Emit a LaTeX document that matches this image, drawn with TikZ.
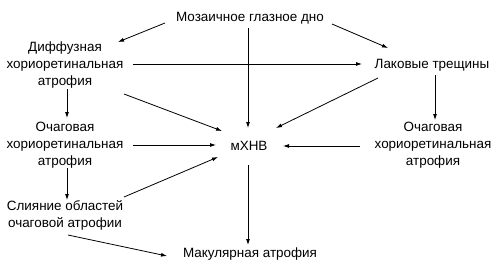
\documentclass[tikz,border=0pt]{standalone}
\usepackage{fontspec}
\setmainfont{Liberation Sans}
\usetikzlibrary{calc,arrows.meta}
\begin{document}
\begin{tikzpicture}[x=1bp,y=-1bp,
  lbl/.style={align=center,inner sep=0pt,font=\fontsize{13.5}{17}\selectfont},
  arr/.style={draw=black,line width=0.8bp,-{Latex[length=6bp,width=4bp]}}]
\useasboundingbox[fill=white] (0,0) rectangle (500,270);
\node[lbl] (moz) at (250,18) {Мозаичное глазное дно};
\node[lbl] (dif) at (65,65) {Диффузная\\хориоретинальная\\атрофия};
\node[lbl] (lak) at (432,65) {Лаковые трещины};
\node[lbl] (och1) at (65,145) {Очаговая\\хориоретинальная\\атрофия};
\node[lbl] (mx) at (249,146) {мХНВ};
\node[lbl] (och2) at (433,145) {Очаговая\\хориоретинальная\\атрофия};
\node[lbl] (sli) at (65,215) {Слияние областей\\очаговой атрофии};
\node[lbl] (mak) at (250,254) {Макулярная атрофия};
\draw[arr] ($(moz)+(-85,5)$) -- ($(dif)+(53,-23)$);
\draw[arr] ($(moz)+(82,6)$) -- ($(lak)+(-44,-17)$);
\draw[arr] ($(moz)+(-2,10)$) -- ($(mx)+(-1,-18)$);
\draw[arr] ($(dif)+(68,-1)$) -- ($(lak)+(-70,-1)$);
\draw[arr] ($(dif)+(2,24)$) -- ($(och1)+(2,-27)$);
\draw[arr] ($(dif)+(59,29)$) -- ($(mx)+(-27,-15)$);
\draw[arr] ($(lak)+(-54,13)$) -- ($(mx)+(27,-18)$);
\draw[arr] ($(lak)+(3,10)$) -- ($(och2)+(2,-25)$);
\draw[arr] ($(och1)+(68,0)$) -- ($(mx)+(-33,-1)$);
\draw[arr] ($(och2)+(-73,1)$) -- ($(mx)+(34,0)$);
\draw[arr] ($(och1)+(2,23)$) -- ($(sli)+(2,-15)$);
\draw[arr] ($(sli)+(59,-18)$) -- ($(mx)+(-31,11)$);
\draw[arr] ($(sli)+(3,20)$) -- ($(mak)+(-83,2)$);
\draw[arr] ($(mx)+(-1,19)$) -- ($(mak)+(-2,-9)$);
\end{tikzpicture}
\end{document}
